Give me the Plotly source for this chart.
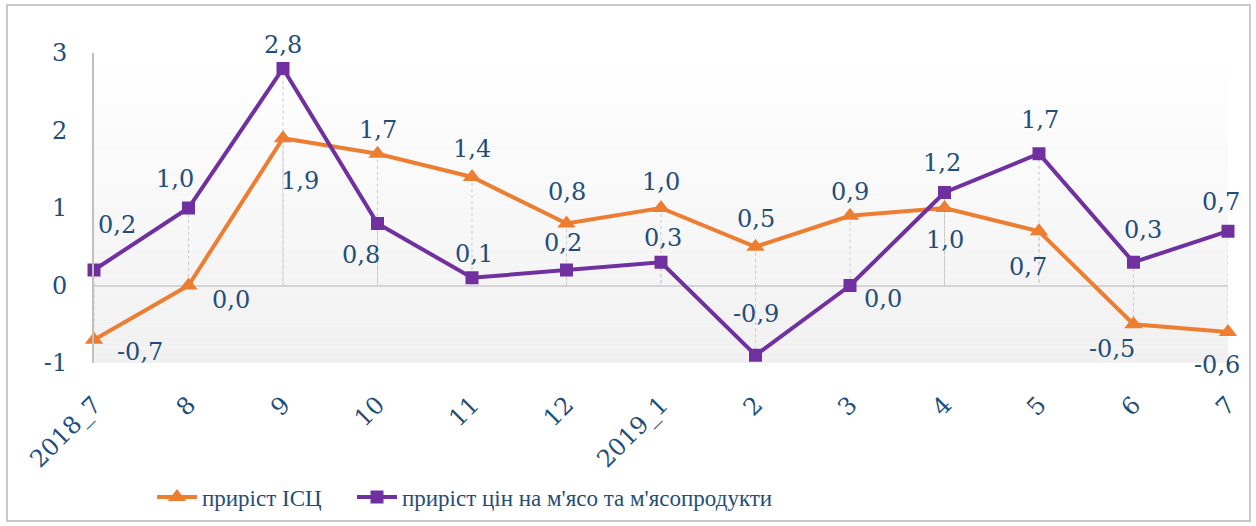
import plotly.graph_objects as go

categories = ["2018_7", "8", "9", "10", "11", "12", "2019_1", "2", "3", "4", "5", "6", "7"]
cpi_growth = [-0.7, 0.0, 1.9, 1.7, 1.4, 0.8, 1.0, 0.5, 0.9, 1.0, 0.7, -0.5, -0.6]
meat_growth = [0.2, 1.0, 2.8, 0.8, 0.1, 0.2, 0.3, -0.9, 0.0, 1.2, 1.7, 0.3, 0.7]
y_ticks = [-1, 0, 1, 2, 3]
series_names = ["приріст ІСЦ", "приріст цін на м'ясо та м'ясопродукти"]

# data-label offsets in pixels (style): (dx, dy) with dy positive = up
cpi_off = [(46, -12), (42, -14), (17, -43), (0, 24), (0, 28), (0, 32), (0, 26),
           (0, 28), (0, 24), (0, -32), (-11, -36), (-22, -25), (-11, -33)]
meat_off = [(23, 45), (-14, 29), (0, 24), (-17, -31), (2, 24), (-4, 27), (2, 24),
            (0, 41), (33, -13), (-3, 30), (1, 34), (9, 32), (-7, 29)]

TXT = "#1F4E79"
ORANGE = "#ED7D31"
PURPLE = "#7030A0"
FONT = "DejaVu Serif"
FS = 24


def fmt(v):
    return f"{v:.1f}".replace(".", ",")


fig = go.Figure()

# drop lines from each point to zero
dx, dy = [], []
for series in (cpi_growth, meat_growth):
    for c, v in zip(categories, series):
        dx += [c, c, None]
        dy += [v, 0, None]
fig.add_trace(go.Scatter(x=dx, y=dy, mode="lines", showlegend=False, hoverinfo="skip",
                         line=dict(color="#c8c8c8", width=1, dash="dot")))

fig.add_trace(go.Scatter(
    x=categories, y=cpi_growth, name=series_names[0], mode="lines+markers",
    line=dict(color=ORANGE, width=4), legend="legend",
    marker=dict(symbol="triangle-up", size=16, color=ORANGE), cliponaxis=False))

fig.add_trace(go.Scatter(
    x=categories, y=meat_growth, name=series_names[1], mode="lines+markers",
    line=dict(color=PURPLE, width=4), legend="legend2",
    marker=dict(symbol="square", size=13, color=PURPLE), cliponaxis=False))

annotations = []
for series, offs in ((cpi_growth, cpi_off), (meat_growth, meat_off)):
    for i, (v, (ox, oy)) in enumerate(zip(series, offs)):
        annotations.append(dict(x=i, y=v, text=fmt(v), showarrow=False,
                                xshift=ox, yshift=oy,
                                font=dict(family=FONT, size=FS, color=TXT)))

# gradient background bands
shapes = []
n = 60
for i in range(n):
    t = (i + 0.5) / n  # 0 at bottom, 1 at top
    g = round(240 + 15 * t)
    shapes.append(dict(type="rect", xref="paper", yref="paper", x0=0, x1=1,
                       y0=i / n, y1=(i + 1) / n, layer="below",
                       fillcolor=f"rgb({g},{g},{g})", line=dict(width=0)))
# outer border
L, R, T, B = 94, 28, 53, 163
W, H = 1256, 526
pw, ph = W - L - R, H - T - B
shapes.append(dict(type="rect", xref="paper", yref="paper",
                   x0=(7 - L) / pw, x1=(1250 - L) / pw,
                   y0=(H - B - 521) / ph, y1=(H - B - 5) / ph,
                   line=dict(color="#c8c8c8", width=2), layer="below"))

leg_common = dict(orientation="h", xanchor="left", y=(H - B - 497) / ph, yanchor="middle",
                  font=dict(family="Liberation Serif", size=23, color=TXT),
                  itemwidth=40, bgcolor="rgba(0,0,0,0)")

fig.update_layout(
    width=W, height=H,
    margin=dict(l=L, r=R, t=T, b=B, autoexpand=False),
    paper_bgcolor="white", plot_bgcolor="white",
    font=dict(family=FONT, size=FS, color=TXT),
    shapes=shapes,
    annotations=annotations,
    showlegend=True,
    legend=dict(x=(152 - L) / pw, **leg_common),
    legend2=dict(x=(352 - L) / pw, **leg_common),
    xaxis=dict(type="category", range=[0, len(categories) - 1], tickangle=-45,
               showgrid=False, zeroline=False, showline=False, ticks="", automargin=False,
               tickfont=dict(family=FONT, size=FS, color=TXT), ticklabelstandoff=22),
    yaxis=dict(range=[-1, 3], tickvals=y_ticks, ticktext=[str(v) for v in y_ticks],
               showgrid=False, zeroline=True, zerolinecolor="#d4d4d4", zerolinewidth=2,
               showline=True, linecolor="#c0c0c0", linewidth=2, ticks="", automargin=False,
               tickfont=dict(family=FONT, size=FS, color=TXT), ticklabelstandoff=20),
)

fig.write_html("out.html", config={"displayModeBar": False},
               post_script="document.body.style.margin='0';document.body.style.overflow='hidden';")
